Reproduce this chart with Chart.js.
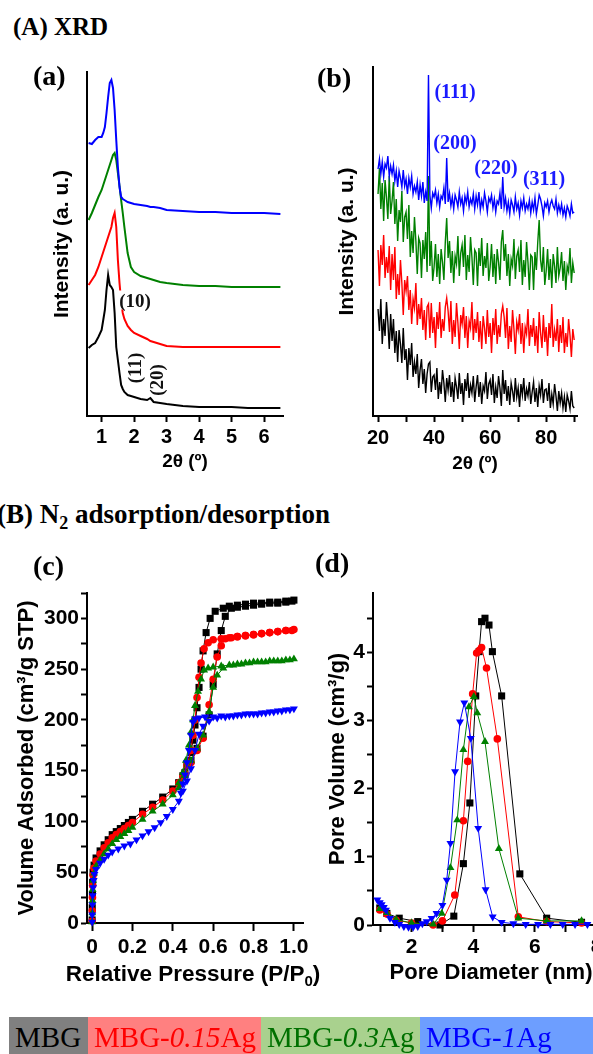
<!DOCTYPE html>
<html><head><meta charset="utf-8">
<script src="https://cdn.jsdelivr.net/npm/chart.js@4.4.1/dist/chart.umd.min.js"></script>
<style>
html,body{margin:0;padding:0;background:#fff;overflow:hidden;width:593px;height:1054px;}
#stage{position:relative;width:593px;height:1054px;overflow:hidden;background:#fff;}
canvas{position:absolute;}
.lbl{position:absolute;font-family:"Liberation Serif","Times New Roman",serif;font-weight:bold;line-height:1;white-space:nowrap;color:#000;}
.ann{position:absolute;font-family:"Liberation Serif","Times New Roman",serif;font-weight:bold;line-height:1;white-space:nowrap;transform:translate(-50%,-50%);}
.rot{transform:translate(-50%,-50%) rotate(-90deg);}
.axt{position:absolute;font-family:"Liberation Sans",Arial,sans-serif;font-weight:bold;font-size:22.5px;line-height:1;white-space:nowrap;transform:translate(-50%,-50%);color:#000;}
.axt sub{font-size:15px;line-height:0;}
.leg{position:absolute;top:1017px;height:40px;line-height:40px;font-family:"Liberation Serif","Times New Roman",serif;font-size:29px;white-space:nowrap;padding-left:6px;box-sizing:border-box;overflow:hidden;}
</style></head>
<body><div id="stage">
<canvas id="cA" width="295" height="420" style="left:0;top:60px"></canvas>
<canvas id="cB" width="293" height="420" style="left:300px;top:60px"></canvas>
<canvas id="cC" width="330" height="440" style="left:0;top:560px"></canvas>
<canvas id="cD" width="320" height="440" style="left:300px;top:560px"></canvas>

<div class="lbl" style="left:13px;top:14px;font-size:25px">(A) XRD</div>
<div class="lbl" style="left:33px;top:62px;font-size:28px">(a)</div>
<div class="lbl" style="left:317px;top:64px;font-size:28px">(b)</div>
<div class="lbl" style="left:-3px;top:501px;font-size:27px">(B) N<sub style="font-size:18px;line-height:0">2</sub> adsorption/desorption</div>
<div class="lbl" style="left:33px;top:552px;font-size:28px">(c)</div>
<div class="lbl" style="left:315px;top:549px;font-size:28px">(d)</div>

<div class="ann" style="left:135px;top:300px;font-size:19px;color:#111;background:#fff;padding:0 1px">(10)</div>
<div class="ann rot" style="left:134px;top:368px;font-size:19px;color:#111">(11)</div>
<div class="ann rot" style="left:156px;top:380px;font-size:19px;color:#111">(20)</div>

<div class="ann" style="left:455px;top:91px;font-size:20px;color:#1a1aff">(111)</div>
<div class="ann" style="left:455px;top:142px;font-size:20px;color:#1a1aff">(200)</div>
<div class="ann" style="left:496px;top:167px;font-size:20px;color:#1a1aff">(220)</div>
<div class="ann" style="left:544px;top:178px;font-size:20px;color:#1a1aff">(311)</div>

<div class="axt" style="left:193px;top:974px">Relative Pressure (P/P<sub>0</sub>)</div>

<div id="legend"></div>
</div>
<script>
// ---------------- DATA ----------------
const sampleNames = ['MBG', 'MBG-0.15Ag', 'MBG-0.3Ag', 'MBG-1Ag'];
const sampleAg = ['', '0.15', '0.3', '1'];

// (a) low-angle XRD, 2theta (deg) and intensity (a.u.)
const lowAngle2Theta = [0.6,0.7,0.8,0.9,1.0,1.05,1.1,1.15,1.2,1.25,1.3,1.35,1.4,1.45,1.5,1.55,1.6,1.65,1.7,1.8,1.9,2.0,2.2,2.4,2.5,2.6,2.8,3.0,3.5,4.0,4.5,5.0,5.5,6.0,6.5];
const lowMBG    = [68,71,73,79,86,96,106,126,141,131,129,126,103,69,56,43,31,27,24,21,20,19,17,16,18,14,13,12,10,9,9,9,8,8,8];
const lowAg015  = [131,136,141,149,159,164,169,174,179,184,189,198,203,189,156,133,115,103,97,90,86,83,80,77,75,74,72,70,69,69,69,69,69,69,69];
const lowAg03   = [196,203,211,219,226,231,236,241,246,251,256,261,263,256,243,230,216,203,189,163,149,144,140,138,137,136,134,133,131,130,130,129,129,129,129];
const lowAg1    = [273,272,276,279,279,283,289,303,319,333,336,328,306,276,249,229,219,217,216,214,213,212,211,210,209,209,208,206,205,204,204,203,203,203,202];

// (b) wide-angle XRD
const wide2Theta = [
20,20.5,21,21.5,22,22.5,23,23.5,24,24.5,
25,25.5,26,26.5,27,27.5,28,28.5,29,29.5,
30,30.5,31,31.5,32,32.5,33,33.5,34,34.5,
35,35.5,36,36.5,37,37.5,38,38.5,39,39.5,
40,40.5,41,41.5,42,42.5,43,43.5,44,44.5,
45,45.5,46,46.5,47,47.5,48,48.5,49,49.5,
50,50.5,51,51.5,52,52.5,53,53.5,54,54.5,
55,55.5,56,56.5,57,57.5,58,58.5,59,59.5,
60,60.5,61,61.5,62,62.5,63,63.5,64,64.5,
65,65.5,66,66.5,67,67.5,68,68.5,69,69.5,
70,70.5,71,71.5,72,72.5,73,73.5,74,74.5,
75,75.5,76,76.5,77,77.5,78,78.5,79,79.5,
80,80.5,81,81.5,82,82.5,83,83.5,84,84.5,
85,85.5,86,86.5,87,87.5,88,88.5,89,89.5,
90];
const wideMBG = [
107,85,117,72,97,80,114,94,67,102,
75,97,63,85,54,86,72,53,88,56,
67,36,68,51,73,39,54,42,62,28,
46,57,32,47,23,42,52,54,24,39,
41,26,48,17,34,22,46,33,14,38,
26,41,19,34,14,38,29,17,43,22,
33,11,37,25,43,18,31,23,40,14,
29,41,19,34,12,30,25,44,17,32,
36,21,42,13,29,18,40,28,10,46,
22,36,15,30,11,33,25,14,38,19,
28,9,32,21,38,15,27,20,34,12,
24,34,14,28,9,30,21,37,13,26,
27,15,33,8,22,12,32,20,5,25,
13,23,8,19,4,21,15,7,25,10,
8];
const wideAg015 = [
166,130,171,151,181,138,159,143,170,126,
162,136,169,117,142,121,156,133,101,136,
125,140,106,126,92,117,108,133,91,112,
97,118,86,106,76,109,112,78,113,83,
99,68,104,87,114,78,97,85,109,118,
105,84,115,72,96,79,113,93,67,101,
92,109,78,100,68,95,88,114,76,97,
83,104,74,95,67,100,88,72,106,79,
93,63,98,81,107,72,91,79,102,110,
99,78,108,67,90,74,106,87,62,94,
86,102,72,93,63,89,82,107,70,91,
79,98,70,90,63,104,83,68,101,74,
89,60,93,78,112,69,86,75,97,64,
91,73,99,63,83,69,97,81,59,87,
76];
const wideAg03 = [
222,248,207,233,195,236,219,197,240,202,
215,234,192,217,175,206,194,225,174,199,
204,177,211,159,185,163,199,175,142,178,
173,138,176,157,184,144,240,150,175,135,
149,172,139,162,132,167,154,136,174,198,
158,175,143,165,133,160,152,180,140,163,
171,149,181,136,161,144,179,159,131,166,
163,130,168,150,178,140,160,148,173,135,
149,172,139,162,132,167,154,136,174,186,
155,172,140,162,130,157,150,177,137,160,
166,144,176,131,156,139,174,154,126,161,
159,126,164,146,174,196,156,144,169,131,
145,167,136,157,128,162,150,133,169,140,
148,164,135,155,126,150,144,168,133,153,
143];
const wideAg1 = [
247,257,242,254,239,252,248,260,240,250,
242,251,235,245,229,245,238,229,246,230,
237,222,238,229,240,222,230,224,234,216,
231,220,234,213,224,215,341,221,208,223,
219,226,213,222,209,220,217,228,212,258,
214,223,210,219,207,221,216,209,224,212,
218,205,220,213,224,209,217,212,222,207,
220,211,224,206,216,209,223,215,204,218,
214,221,208,217,204,215,212,223,207,239,
209,218,205,214,202,216,211,204,219,207,
213,201,215,208,218,205,212,207,216,203,
214,206,218,202,211,221,217,210,200,213,
209,215,204,212,216,210,207,217,203,211,
204,212,201,208,199,210,206,200,212,203,
204];

// (c) N2 isotherms: relative pressure P/P0 and volume adsorbed (cm3/g STP), adsorption then desorption
const isoP_MBG = [0.0005,0.001,0.002,0.003,0.005,0.01,0.02,0.04,0.06,0.08,0.1,0.12,0.14,0.16,0.18,0.2,0.25,0.3,0.35,0.4,0.43,0.46,0.49,0.52,0.55,0.58,0.6,0.62,0.64,0.66,0.69,0.72,0.76,0.8,0.84,0.88,0.92,0.96,0.99,1.0,
  0.96,0.92,0.88,0.84,0.8,0.76,0.72,0.68,0.65,0.61,0.585,0.565,0.55,0.54,0.53,0.52,0.51,0.5,0.49,0.47,0.45,0.43];
const isoV_MBG = [3,15,28,40,50,57,64,71,77,82,87,90,93,96,99,102,110,117,124,132,138,148,160,172,184,205,235,265,288,302,310,311,312,313,314,315,315,316,317,318,
  317,316,316,315,315,314,313,312,310,307,300,286,268,250,232,212,195,180,168,155,145,138];
const isoP_Ag015 = [0.0005,0.001,0.002,0.003,0.005,0.01,0.02,0.04,0.06,0.08,0.1,0.12,0.14,0.16,0.18,0.2,0.25,0.3,0.35,0.4,0.43,0.46,0.49,0.52,0.55,0.58,0.6,0.62,0.64,0.66,0.69,0.72,0.76,0.8,0.84,0.88,0.92,0.96,0.99,1.0,
  0.96,0.92,0.88,0.84,0.8,0.76,0.72,0.68,0.64,0.6,0.575,0.555,0.54,0.53,0.52,0.51,0.5,0.49,0.47,0.45,0.43];
const isoV_Ag015 = [2,12,25,37,47,54,61,68,74,79,84,87,90,93,96,99,107,114,121,130,137,147,158,170,182,215,240,262,273,280,281,282,283,284,285,286,287,288,288,289,
  288,287,286,285,284,283,282,281,280,279,276,270,256,242,222,200,185,170,155,145,138];
const isoP_Ag03 = [0.0005,0.001,0.002,0.003,0.005,0.01,0.02,0.04,0.06,0.08,0.1,0.12,0.14,0.16,0.18,0.2,0.25,0.3,0.35,0.4,0.43,0.46,0.49,0.52,0.55,0.58,0.6,0.62,0.65,0.7,0.74,0.78,0.82,0.86,0.9,0.94,0.98,1.0,
  0.96,0.92,0.88,0.84,0.8,0.76,0.72,0.68,0.64,0.6,0.575,0.555,0.54,0.525,0.51,0.5,0.49,0.48,0.465,0.45,0.43];
const isoV_Ag03 = [1,10,22,33,42,49,56,62,68,73,78,82,85,88,91,94,102,110,117,126,133,145,160,172,185,208,232,244,251,254,255,256,257,257,258,258,259,260,
  259,258,258,257,257,256,255,254,253,252,251,249,240,228,214,200,188,175,160,148,138];
const isoP_Ag1 = [0.0005,0.001,0.002,0.003,0.005,0.008,0.012,0.02,0.04,0.06,0.08,0.1,0.13,0.16,0.19,0.22,0.25,0.28,0.31,0.34,0.37,0.4,0.43,0.45,0.47,0.49,0.51,0.53,0.55,0.58,0.62,0.66,0.7,0.74,0.78,0.82,0.86,0.9,0.94,0.98,1.0,
  0.96,0.92,0.88,0.84,0.8,0.76,0.72,0.68,0.64,0.6,0.56,0.53,0.51,0.5,0.49,0.48,0.47,0.46,0.45,0.44];
const isoV_Ag1 = [1,8,18,27,35,42,48,53,59,63,67,70,73,76,78,82,86,90,94,99,105,112,120,130,140,152,170,186,194,199,202,203,204,205,206,206,207,208,209,210,211,
  210,209,208,207,206,206,205,204,204,203,203,202,201,198,185,170,158,146,137,128];

// (d) pore size distribution: pore diameter (nm) and pore volume (cm3/g)
const poreD_MBG = [0.97,1.2,1.6,2.2,2.92,3.37,3.68,3.89,4.08,4.19,4.27,4.38,4.51,4.62,4.92,5.51,6.38,7.51];
const poreV_MBG = [0.25,0.17,0.1,0.05,0.0,0.13,0.9,1.79,3.36,4.01,4.45,4.5,4.4,4.01,3.36,0.75,0.1,0.04];
const poreD_Ag015 = [0.97,1.2,1.5,2.0,2.7,3.0,3.4,3.68,3.82,3.98,4.11,4.2,4.27,4.43,4.78,5.46,6.38,7.51];
const poreV_Ag015 = [0.22,0.16,0.07,0.03,0.0,0.06,0.44,1.53,2.4,3.39,3.99,4.03,4.07,3.77,2.73,0.12,0.05,0.03];
const poreD_Ag03 = [0.97,1.2,1.5,2.0,2.7,2.98,3.26,3.48,3.68,3.86,4.02,4.13,4.38,4.83,5.46,6.38,7.51];
const poreV_Ag03 = [0.24,0.18,0.08,0.03,0.01,0.17,0.84,1.54,2.57,3.2,3.35,3.11,2.69,1.12,0.1,0.06,0.06];
const poreD_Ag1 = [0.89,0.97,1.03,1.1,1.17,1.3,1.46,1.6,1.75,1.9,2.05,2.2,2.35,2.49,2.65,2.81,3.0,3.14,3.26,3.41,3.57,3.71,3.92,4.16,4.4,4.63,4.92,5.3,5.7,6.1,6.5,6.9,7.3,7.7];
const poreV_Ag1 = [0.37,0.33,0.3,0.26,0.22,0.1,0.04,0.01,-0.02,-0.03,-0.03,-0.02,0.02,0.05,0.1,0.17,0.29,0.66,1.2,2.25,2.98,3.26,2.74,1.42,0.52,0.12,0.04,0.02,0.01,0.01,0.01,0.01,0.01,0.01];

// ---------------- STYLE / BUILD ----------------
const colors = ['#000000', '#ff0000', '#008000', '#0000ff'];
const SANS = '"Liberation Sans", Arial, Helvetica, sans-serif';
Chart.defaults.font.family = SANS;
Chart.defaults.font.weight = 'bold';
Chart.defaults.font.size = 20;
Chart.defaults.color = '#000';

function fnt(size){ return {family: SANS, size: size, weight: 'bold', lineHeight: 1.2}; }
function pts(xs, ys){ return xs.map((x, i) => ({x: x, y: ys[i]})); }

function scale(o){
  const tickFont = fnt(o.tickSize || 20);
  const ticks = {display: o.labels !== false, includeBounds: false, color: '#000', font: function(){ return tickFont; },
                 padding: o.tickPad == null ? 3 : o.tickPad, maxRotation: 0, minRotation: 0, autoSkip: false};
  if (o.step) ticks.stepSize = o.step;
  if (o.cb) ticks.callback = o.cb;
  return {
    type: 'linear', position: o.pos, min: o.min, max: o.max,
    border: {display: true, color: '#000', width: 2},
    grid: {display: true, drawOnChartArea: false, drawTicks: o.labels !== false, tickLength: o.tickLen || 6, tickColor: '#000', tickWidth: 2},
    ticks: ticks,
    title: {display: !!o.title, text: o.title || '', color: '#000', font: fnt(o.titleSize || 20), padding: o.titlePad || 0},
    afterFit: function(s){ if (o.pos === 'bottom') s.height = o.box; else s.width = o.box; }
  };
}

function baseOptions(pad, xs, ys){
  return {
    responsive: false, devicePixelRatio: 1, animation: false,
    layout: {padding: pad},
    plugins: {legend: {display: false}, tooltip: {enabled: false}},
    scales: {x: xs, y: ys}
  };
}

function lineSet(i, xs, ys, w){
  return {label: sampleNames[i], data: pts(xs, ys), borderColor: colors[i], backgroundColor: colors[i],
          borderWidth: w, pointRadius: 0, showLine: true, fill: false, tension: 0, order: 3 - i};
}
const markerStyle = ['rect', 'circle', 'triangle', 'triangle'];
const markerRot = [0, 0, 0, 180];
const markerRad = [5, 3.8, 4.6, 4.6];
function markSet(i, xs, ys){
  return {label: sampleNames[i], data: pts(xs, ys), borderColor: colors[i], backgroundColor: colors[i],
          pointBackgroundColor: colors[i], pointBorderColor: colors[i], pointBorderWidth: 0,
          borderWidth: 1, pointRadius: markerRad[i], pointStyle: markerStyle[i], pointRotation: markerRot[i],
          showLine: true, fill: false, tension: 0, clip: false, order: 3 - i};
}

// (a)
new Chart(document.getElementById('cA'), {
  type: 'scatter',
  data: {datasets: [
    lineSet(0, lowAngle2Theta, lowMBG, 2), lineSet(1, lowAngle2Theta, lowAg015, 2),
    lineSet(2, lowAngle2Theta, lowAg03, 2), lineSet(3, lowAngle2Theta, lowAg1, 2)]},
  options: baseOptions({left: 0, right: 12, top: 12, bottom: 0},
    scale({pos: 'bottom', min: 0.55, max: 6.58, step: 1, tickPad: 3, tickSize: 20, title: '2θ (º)', titleSize: 19, titlePad: {top: 0, bottom: 7}, box: 64}),
    scale({pos: 'left', min: 0, max: 344, labels: false, title: 'Intensity (a. u.)', titleSize: 21, titlePad: {top: 50, bottom: 0}, box: 87}))
});

// (b)
new Chart(document.getElementById('cB'), {
  type: 'scatter',
  data: {datasets: [
    lineSet(0, wide2Theta, wideMBG, 1.4), lineSet(1, wide2Theta, wideAg015, 1.4),
    lineSet(2, wide2Theta, wideAg03, 1.4), lineSet(3, wide2Theta, wideAg1, 1.4)]},
  options: baseOptions({left: 0, right: 16, top: 7, bottom: 0},
    scale({pos: 'bottom', min: 18.2, max: 91, step: 10, tickPad: 4, tickSize: 20, cb: v => (v % 20 === 0 ? String(v) : ''), title: '2θ (º)', titleSize: 19, titlePad: {top: 0, bottom: 5}, box: 64}),
    scale({pos: 'left', min: 0, max: 349, labels: false, title: 'Intensity (a. u.)', titleSize: 21, titlePad: {top: 35, bottom: 0}, box: 73}))
});

// (c)  (x title drawn as HTML text because it is wider than the plot area)
new Chart(document.getElementById('cC'), {
  type: 'scatter',
  data: {datasets: [
    markSet(0, isoP_MBG, isoV_MBG), markSet(1, isoP_Ag015, isoV_Ag015),
    markSet(2, isoP_Ag03, isoV_Ag03), markSet(3, isoP_Ag1, isoV_Ag1)]},
  options: baseOptions({left: 0, right: 27, top: 33, bottom: 0},
    scale({pos: 'bottom', min: -0.025, max: 1.045, step: 0.2, tickLen: 8, tickPad: 4, tickSize: 21,
           cb: v => (Math.abs(v) < 1e-9 ? '0' : v.toFixed(1)), box: 77}),
    scale({pos: 'left', min: 0, max: 325, step: 25, tickLen: 6, tickPad: 2, tickSize: 21,
           cb: v => (v % 50 === 0 ? String(v) : ''), title: 'Volume Adsorbed (cm³/g STP)', titleSize: 22, titlePad: {top: 14, bottom: 0}, box: 87}))
});

// (d)
new Chart(document.getElementById('cD'), {
  type: 'scatter',
  data: {datasets: [
    markSet(0, poreD_MBG, poreV_MBG), markSet(1, poreD_Ag015, poreV_Ag015),
    markSet(2, poreD_Ag03, poreV_Ag03), markSet(3, poreD_Ag1, poreV_Ag1)]},
  options: baseOptions({left: 0, right: 11, top: 33, bottom: 0},
    scale({pos: 'bottom', min: 0.75, max: 8.4, step: 1, tickLen: 7, tickPad: 3, tickSize: 21,
           cb: v => (v % 2 === 0 ? String(v) : ''), title: 'Pore Diameter (nm)', titleSize: 22, titlePad: {top: 0, bottom: 14}, box: 75}),
    scale({pos: 'left', min: 0, max: 4.87, step: 0.5, tickLen: 6, tickPad: 2, tickSize: 21,
           cb: v => (Number.isInteger(v) ? String(v) : ''), title: 'Pore Volume (cm³/g)', titleSize: 22, titlePad: {top: 25, bottom: 0}, box: 73}))
});

// legend strip built from the sample names
const legBg = ['#808080', '#ff8080', '#a9d18e', '#6d9eff'];
const legText = ['#000000', '#ff0000', '#007000', '#0000ff'];
const legLeft = [9, 88, 261, 420];
const legWidth = [79, 173, 159, 190];
const legend = document.getElementById('legend');
sampleNames.forEach((name, i) => {
  const d = document.createElement('div');
  d.className = 'leg';
  d.style.left = legLeft[i] + 'px';
  d.style.width = legWidth[i] + 'px';
  d.style.background = legBg[i];
  d.style.color = legText[i];
  if (sampleAg[i]) {
    d.appendChild(document.createTextNode('MBG-'));
    const it = document.createElement('i');
    it.textContent = sampleAg[i];
    d.appendChild(it);
    d.appendChild(document.createTextNode('Ag'));
  } else {
    d.textContent = name;
  }
  legend.appendChild(d);
});
</script>
</body></html>
